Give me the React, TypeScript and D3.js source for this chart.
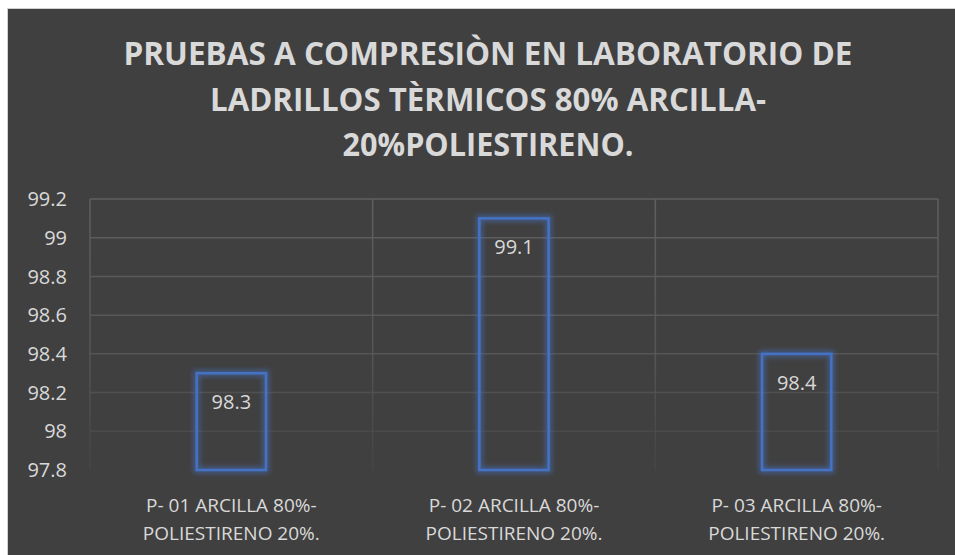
import React from "react";
import * as d3 from "d3";

const titleLines = [
  "PRUEBAS A COMPRESIÒN EN LABORATORIO DE",
  "LADRILLOS TÈRMICOS 80% ARCILLA-",
  "20%POLIESTIRENO.",
];
const categories = [
  ["P- 01 ARCILLA 80%-", "POLIESTIRENO 20%."],
  ["P- 02 ARCILLA 80%-", "POLIESTIRENO 20%."],
  ["P- 03 ARCILLA 80%-", "POLIESTIRENO 20%."],
];
const values = [98.3, 99.1, 98.4];
const yTicks = [97.8, 98, 98.2, 98.4, 98.6, 98.8, 99, 99.2];

const W = 955;
const H = 555;
const plot = { left: 90, right: 938, top: 199, bottom: 470 };
const FONT = "'Open Sans', 'DejaVu Sans', sans-serif";
const TEXT = "#d9d9d9";

export default function App() {
  const x = d3
    .scaleBand<number>()
    .domain(d3.range(categories.length))
    .range([plot.left, plot.right])
    .paddingInner(0)
    .paddingOuter(0);
  const y = d3.scaleLinear().domain([97.8, 99.2]).range([plot.bottom, plot.top]);
  const barW = x.bandwidth() * 0.245;
  const boundaries = d3.range(categories.length + 1).map((i) => plot.left + i * x.bandwidth());

  return (
    <svg
      width={W}
      height={H}
      style={{ position: "absolute", left: 0, top: 0, background: "#fff" }}
    >
      <defs>
        <linearGradient id="gridGrad" gradientUnits="userSpaceOnUse" x1="0" y1={plot.top} x2="0" y2={plot.bottom}>
          <stop offset="0" stopColor="#5f5f5f" stopOpacity="1" />
          <stop offset="0.6" stopColor="#5a5a5a" stopOpacity="0.8" />
          <stop offset="1" stopColor="#4a4a4a" stopOpacity="0.5" />
        </linearGradient>
        <filter id="glow" x="-30%" y="-30%" width="160%" height="160%">
          <feMorphology in="SourceGraphic" operator="dilate" radius="2" result="d" />
          <feGaussianBlur in="d" stdDeviation="2.5" result="b" />
          <feComponentTransfer in="b" result="bf">
            <feFuncA type="linear" slope="0.55" />
          </feComponentTransfer>
          <feMerge>
            <feMergeNode in="bf" />
            <feMergeNode in="SourceGraphic" />
          </feMerge>
        </filter>
      </defs>
      <rect x={7.5} y={8.5} width={W} height={H} fill="#404040" stroke="#d0d0d0" strokeWidth={1} />

      {titleLines.map((t, i) => (
        <text
          key={i}
          x={(plot.left + plot.right) / 2 - 26}
          y={65 + i * 45.5}
          textAnchor="middle"
          fontFamily={FONT}
          fontWeight={700}
          fontSize={32}
          fill={TEXT}
          textLength={[729, 556, 291][i]}
          lengthAdjust="spacingAndGlyphs"
        >
          {t}
        </text>
      ))}

      {yTicks.slice(1).map((t) => (
        <line key={t} x1={plot.left} x2={plot.right} y1={y(t)} y2={y(t)} stroke="url(#gridGrad)" strokeWidth={1.5} />
      ))}
      {boundaries.map((bx, i) => (
        <line key={i} x1={bx} x2={bx} y1={plot.top} y2={plot.bottom} stroke="url(#gridGrad)" strokeWidth={1.5} />
      ))}

      {yTicks.map((t) => (
        <text
          key={t}
          x={67}
          y={y(t)}
          dy="0.36em"
          textAnchor="end"
          fontFamily={FONT}
          fontSize={20}
          fill={TEXT}
        >
          {d3.format("~g")(t)}
        </text>
      ))}

      {values.map((v, i) => {
        const cx = (x(i) as number) + x.bandwidth() / 2;
        return (
          <g key={i}>
            <rect
              x={cx - barW / 2}
              y={y(v)}
              width={barW}
              height={y(97.8) - y(v)}
              fill="none"
              stroke="#4472c4"
              strokeWidth={2.5}
              filter="url(#glow)"
            />
            <text
              x={cx}
              y={y(v) + 36}
              textAnchor="middle"
              fontFamily={FONT}
              fontSize={20}
              fill={TEXT}
            >
              {v}
            </text>
          </g>
        );
      })}

      {categories.map((lines, i) => {
        const cx = (x(i) as number) + x.bandwidth() / 2;
        return (
          <text key={i} textAnchor="middle" fontFamily={FONT} fontSize={19} fill={TEXT}>
            {lines.map((l, j) => (
              <tspan key={j} x={cx} y={512 + j * 28}>
                {l}
              </tspan>
            ))}
          </text>
        );
      })}
    </svg>
  );
}
